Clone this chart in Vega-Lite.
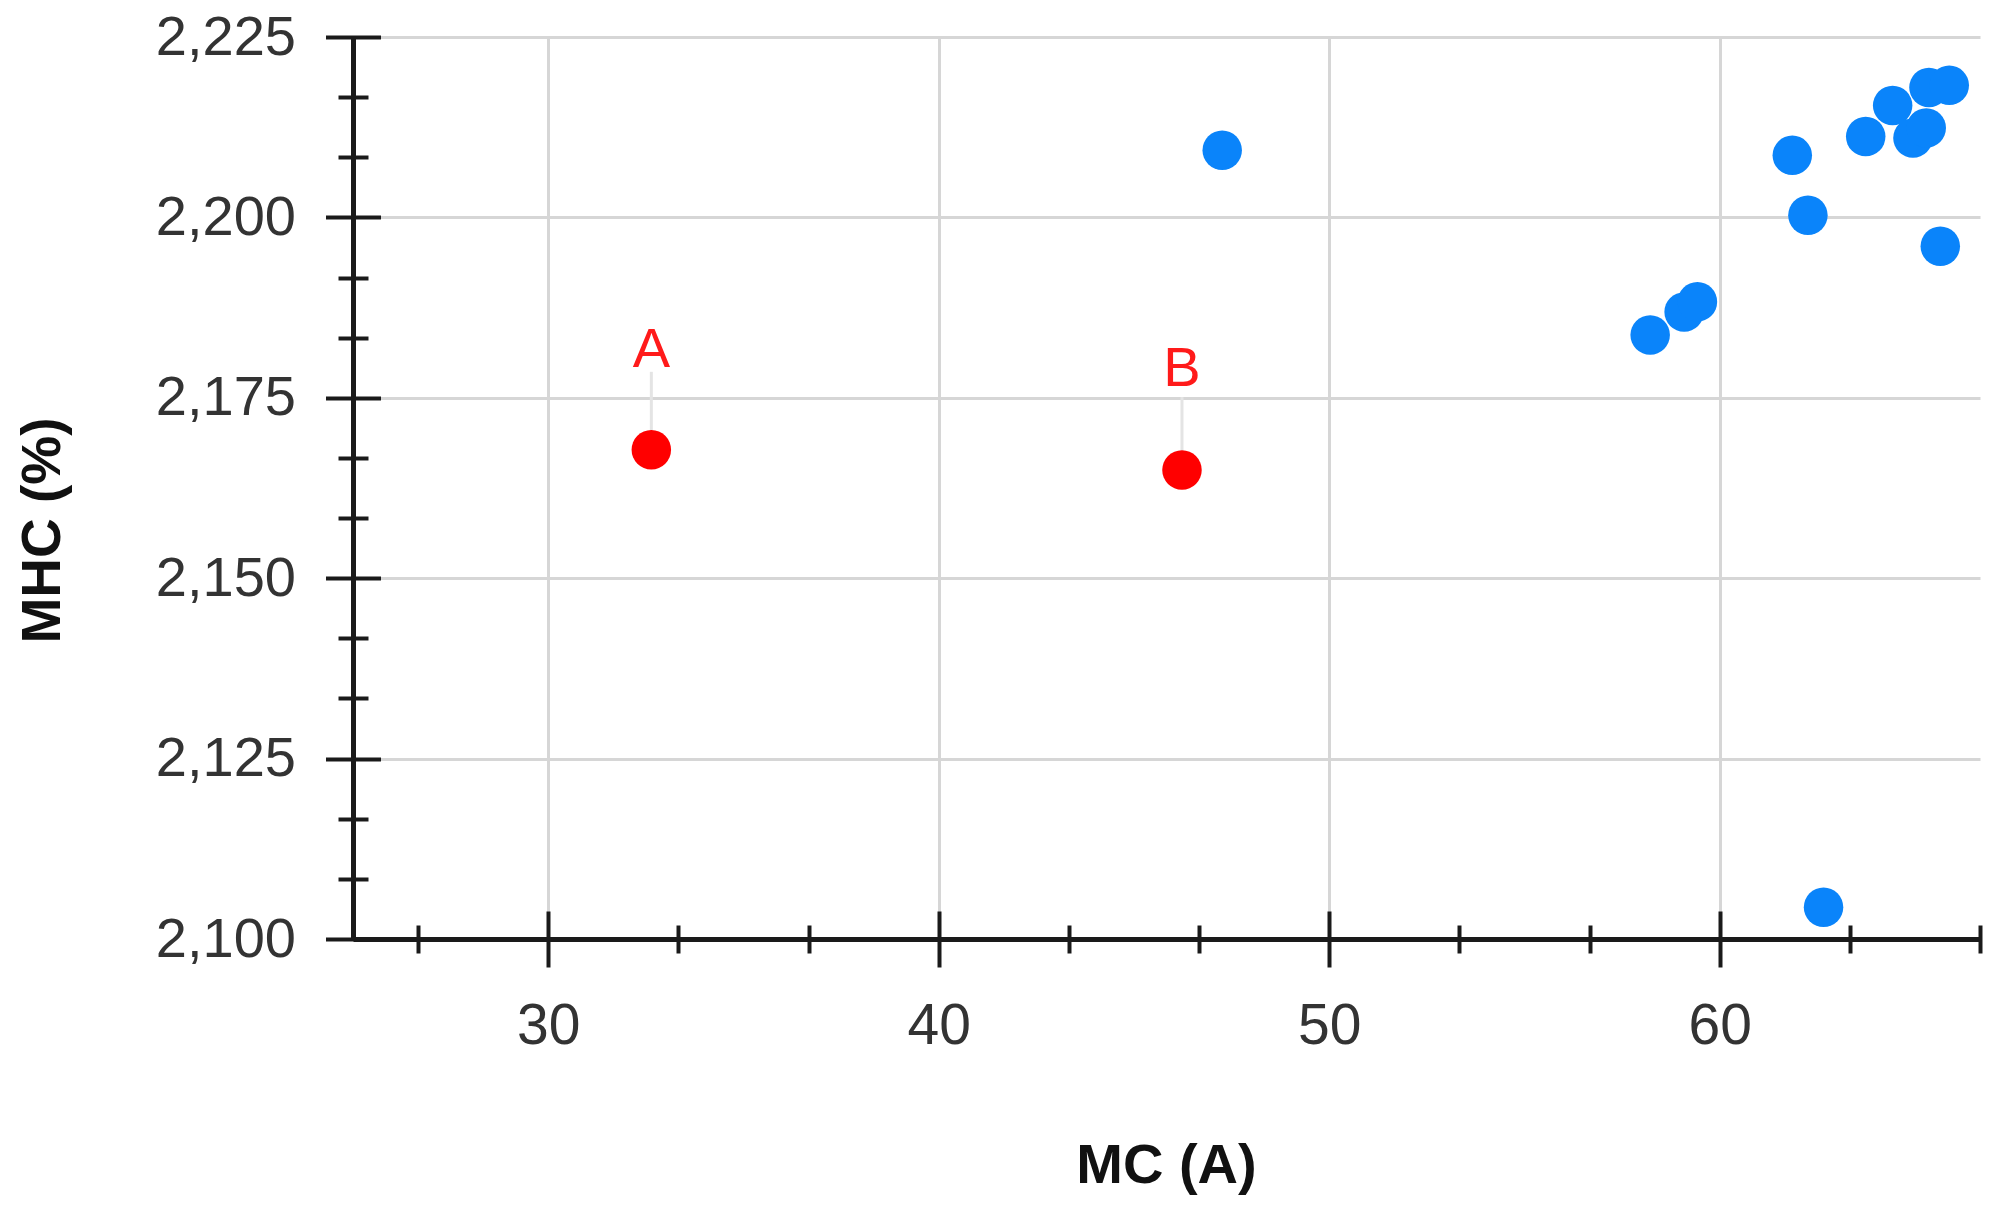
{
  "$schema": "https://vega.github.io/schema/vega-lite/v6.json",
  "width": 1627,
  "height": 902,
  "autosize": "none",
  "padding": {"left": 353, "top": 37, "right": 25, "bottom": 275},
  "background": "white",
  "config": {
    "view": {"stroke": null},
    "font": "Liberation Sans"
  },
  "datasets": {
    "points": [
      {"MC": 47.26, "MHC": 2209.3, "group": "base"},
      {"MC": 58.22, "MHC": 2183.7, "group": "base"},
      {"MC": 59.09, "MHC": 2186.9, "group": "base"},
      {"MC": 59.43, "MHC": 2188.3, "group": "base"},
      {"MC": 61.86, "MHC": 2208.6, "group": "base"},
      {"MC": 62.26, "MHC": 2200.3, "group": "base"},
      {"MC": 65.65, "MHC": 2196.0, "group": "base"},
      {"MC": 62.66, "MHC": 2104.4, "group": "base"},
      {"MC": 63.74, "MHC": 2211.2, "group": "base"},
      {"MC": 64.43, "MHC": 2215.5, "group": "base"},
      {"MC": 64.95, "MHC": 2211.0, "group": "base"},
      {"MC": 65.29, "MHC": 2212.4, "group": "base"},
      {"MC": 65.36, "MHC": 2218.0, "group": "base"},
      {"MC": 65.88, "MHC": 2218.3, "group": "base"},
      {"MC": 32.64, "MHC": 2167.8, "group": "highlight"},
      {"MC": 46.23, "MHC": 2165.0, "group": "highlight"}
    ],
    "labels": [
      {"MC": 32.64, "MHC": 2167.8, "label": "A", "labelY": 2179.2, "stemTop": 2178.6},
      {"MC": 46.23, "MHC": 2165.0, "label": "B", "labelY": 2176.6, "stemTop": 2175.1}
    ]
  },
  "layer": [
    {
      "data": {"name": "labels"},
      "mark": {"type": "rule", "color": "#e4e4e4", "strokeWidth": 3},
      "encoding": {
        "x": {
          "field": "MC", "type": "quantitative",
          "scale": {"domain": [25, 66.667], "nice": false, "zero": false},
          "axis": {
            "orient": "bottom",
            "values": [30, 40, 50, 60],
            "grid": true, "gridColor": "#d6d6d6", "gridWidth": 3,
            "domain": true, "domainColor": "#1a1a1a", "domainWidth": 5,
            "ticks": false, "labels": false,
            "title": "MC (A)",
            "titleFont": "Liberation Sans", "titleFontSize": 56, "titleFontWeight": "bold", "titleColor": "#111111",
            "titleX": 813, "titleY": 243, "titleAlign": "center", "titleBaseline": "alphabetic"
          }
        },
        "y": {
          "field": "MHC", "type": "quantitative",
          "scale": {"domain": [2100, 2225], "nice": false, "zero": false},
          "axis": {
            "orient": "left",
            "values": [2125, 2150, 2175, 2200, 2225],
            "grid": true, "gridColor": "#d6d6d6", "gridWidth": 3,
            "domain": true, "domainColor": "#1a1a1a", "domainWidth": 5,
            "ticks": false, "labels": false,
            "title": "MHC (%)",
            "titleFont": "Liberation Sans", "titleFontSize": 55, "titleFontWeight": "bold", "titleColor": "#111111",
            "titleX": -294, "titleY": 493, "titleAngle": 270, "titleAlign": "center", "titleBaseline": "alphabetic"
          }
        },
        "y2": {"field": "stemTop"}
      }
    },
    {
      "data": {"name": "points"},
      "mark": {"type": "circle", "size": 1560, "opacity": 1},
      "encoding": {
        "x": {
          "field": "MC", "type": "quantitative",
          "scale": {"domain": [25, 66.667], "nice": false, "zero": false},
          "axis": {
            "orient": "bottom", "offset": -28,
            "values": [30, 40, 50, 60], "format": "d",
            "grid": false, "domain": false,
            "ticks": true, "tickSize": 56, "tickWidth": 4, "tickColor": "#1a1a1a",
            "labels": true, "labelFont": "Liberation Sans", "labelFontSize": 57, "labelColor": "#333333", "labelPadding": 31,
            "title": null
          }
        },
        "y": {
          "field": "MHC", "type": "quantitative",
          "scale": {"domain": [2100, 2225], "nice": false, "zero": false},
          "axis": {
            "orient": "left", "offset": -27.5,
            "values": [2100, 2125, 2150, 2175, 2200, 2225], "format": ",d",
            "grid": false, "domain": false,
            "ticks": true, "tickSize": 55, "tickWidth": 4, "tickColor": "#1a1a1a",
            "labels": true, "labelFont": "Liberation Sans", "labelFontSize": 56, "labelColor": "#333333", "labelPadding": 30, "labelLimit": 400,
            "title": null
          }
        },
        "color": {
          "field": "group", "type": "nominal",
          "scale": {"domain": ["base", "highlight"], "range": ["#0a84fa", "#ff0000"]},
          "legend": null
        }
      }
    },
    {
      "data": {"name": "labels"},
      "mark": {"type": "text", "color": "#ff1a1a", "font": "Liberation Sans", "fontSize": 56, "align": "center", "baseline": "alphabetic"},
      "encoding": {
        "x": {
          "field": "MC", "type": "quantitative",
          "scale": {"domain": [25, 66.667], "nice": false, "zero": false},
          "axis": {
            "orient": "bottom", "offset": -14,
            "values": [26.667, 33.333, 36.667, 43.333, 46.667, 53.333, 56.667, 63.333, 66.667],
            "grid": false, "domain": false,
            "ticks": true, "tickSize": 28, "tickWidth": 4, "tickColor": "#1a1a1a",
            "labels": false, "title": null
          }
        },
        "y": {
          "field": "labelY", "type": "quantitative",
          "scale": {"domain": [2100, 2225], "nice": false, "zero": false},
          "axis": {
            "orient": "left", "offset": -15,
            "values": [2108.333, 2116.667, 2133.333, 2141.667, 2158.333, 2166.667, 2183.333, 2191.667, 2208.333, 2216.667],
            "grid": false, "domain": false,
            "ticks": true, "tickSize": 30, "tickWidth": 4, "tickColor": "#1a1a1a",
            "labels": false, "title": null
          }
        },
        "text": {"field": "label", "type": "nominal"}
      }
    }
  ],
  "resolve": {"axis": {"x": "independent", "y": "independent"}}
}
